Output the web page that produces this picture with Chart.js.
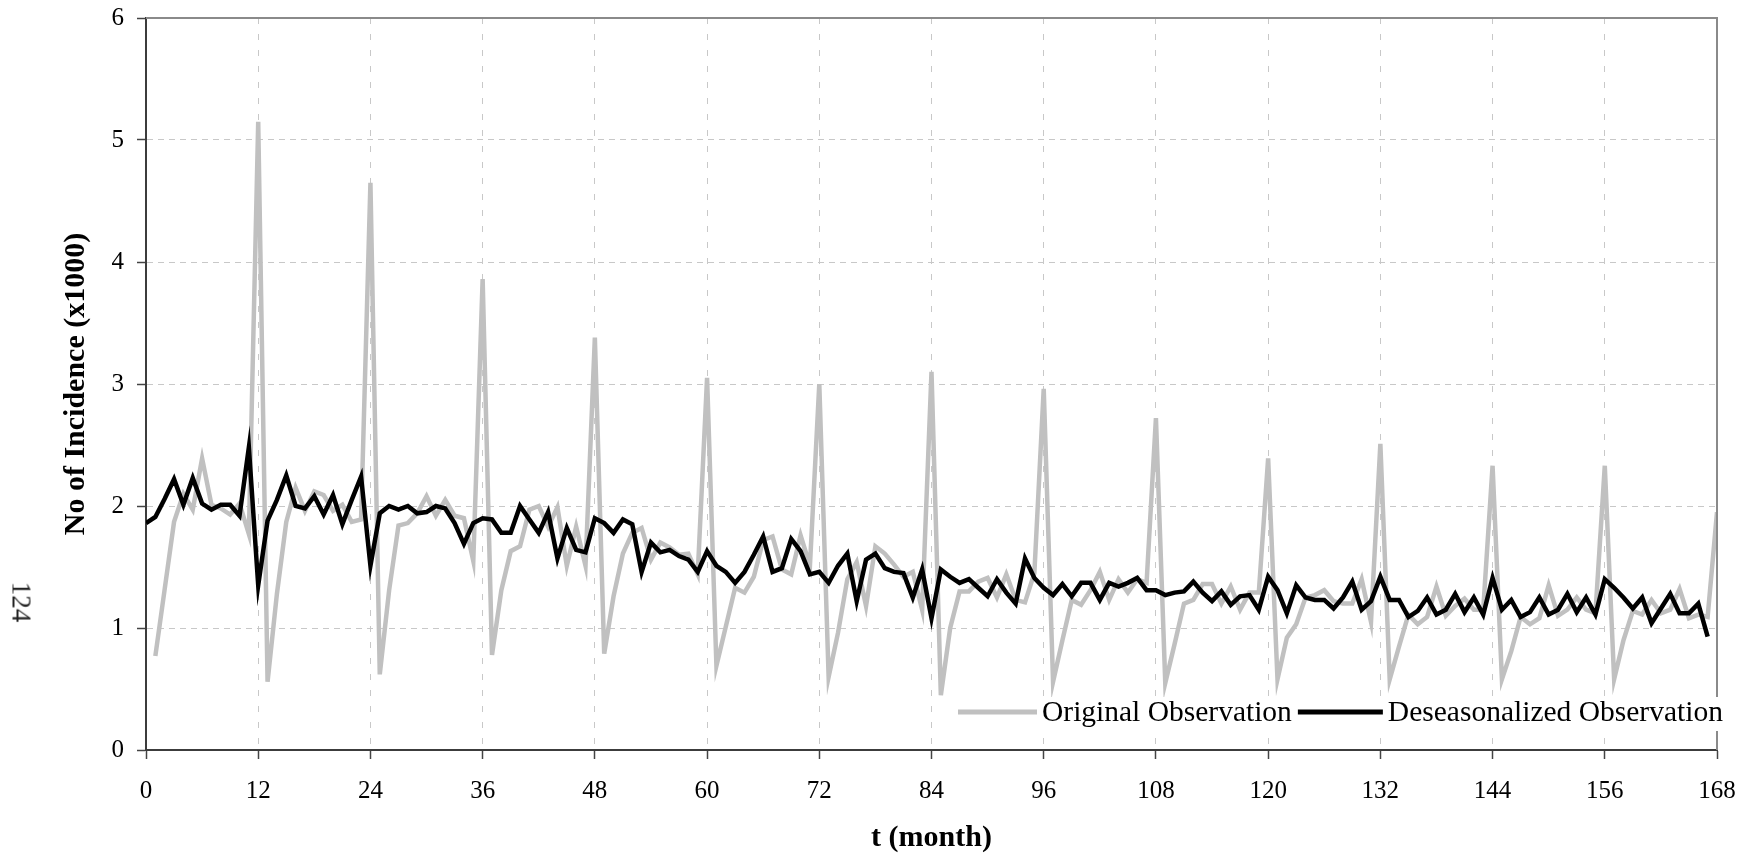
<!DOCTYPE html>
<html>
<head>
<meta charset="utf-8">
<script src="https://cdn.jsdelivr.net/npm/chart.js@4"></script>
<style>
  html, body { margin: 0; padding: 0; background: #fff; }
  #wrap { position: relative; width: 1758px; height: 857px; }
  #pageNo {
    position: absolute; left: 21px; top: 602px;
    transform: translate(-50%, -50%) rotate(90deg);
    font: 27px "Liberation Serif", "Times New Roman", serif; color: #222;
    white-space: nowrap;
  }
</style>
</head>
<body>
<div id="wrap">
  <canvas id="c" width="1758" height="857"></canvas>
  <div id="pageNo">124</div>
</div>
<script>
// ---- data (values x1000) ----
// Original observation, months t = 1..168
const originalObservation = [
  0.77, 1.32, 1.87, 2.10, 1.97, 2.39, 2.01, 1.98, 1.93, 2.02, 1.77, 5.15,
  0.56, 1.28, 1.87, 2.15, 1.96, 2.12, 2.09, 1.96, 2.01, 1.87, 1.89, 4.65,
  0.62, 1.31, 1.84, 1.86, 1.94, 2.08, 1.92, 2.05, 1.92, 1.90, 1.55, 3.86,
  0.78, 1.31, 1.63, 1.67, 1.97, 2.00, 1.83, 1.99, 1.51, 1.83, 1.51, 3.38,
  0.79, 1.26, 1.61, 1.78, 1.82, 1.56, 1.70, 1.66, 1.60, 1.61, 1.44, 3.05,
  0.69, 1.01, 1.33, 1.29, 1.42, 1.72, 1.75, 1.48, 1.44, 1.76, 1.51, 3.00,
  0.60, 0.96, 1.40, 1.54, 1.18, 1.67, 1.61, 1.52, 1.42, 1.46, 1.15, 3.10,
  0.45, 1.00, 1.30, 1.30, 1.38, 1.41, 1.25, 1.44, 1.23, 1.21, 1.45, 2.96,
  0.56, 0.90, 1.23, 1.19, 1.31, 1.46, 1.23, 1.40, 1.29, 1.40, 1.37, 2.72,
  0.55, 0.87, 1.20, 1.23, 1.36, 1.36, 1.20, 1.34, 1.15, 1.29, 1.29, 2.39,
  0.58, 0.92, 1.03, 1.25, 1.27, 1.31, 1.22, 1.20, 1.20, 1.40, 1.05, 2.51,
  0.58, 0.85, 1.11, 1.03, 1.09, 1.34, 1.10, 1.18, 1.24, 1.15, 1.15, 2.33,
  0.58, 0.81, 1.09, 1.03, 1.08, 1.35, 1.10, 1.15, 1.25, 1.15, 1.12, 2.33,
  0.58, 0.90, 1.14, 1.11, 1.23, 1.12, 1.15, 1.32, 1.08, 1.11, 1.09, 1.95
];
const originalStartMonth = 1;

// Deseasonalized observation, months t = 0..167
const deseasonalizedObservation = [
  1.86, 1.91, 2.06, 2.22, 2.01, 2.23, 2.02, 1.97, 2.01, 2.01, 1.92, 2.48,
  1.35, 1.88, 2.05, 2.25, 2.00, 1.98, 2.08, 1.93, 2.09, 1.85, 2.05, 2.24,
  1.51, 1.94, 2.00, 1.97, 2.00, 1.94, 1.95, 2.00, 1.98, 1.86, 1.69, 1.86,
  1.90, 1.89, 1.78, 1.78, 2.00, 1.89, 1.78, 1.95, 1.57, 1.82, 1.64, 1.62,
  1.90, 1.86, 1.78, 1.89, 1.85, 1.46, 1.70, 1.62, 1.64, 1.59, 1.56, 1.46,
  1.63, 1.51, 1.46, 1.37, 1.46, 1.60, 1.75, 1.46, 1.49, 1.73, 1.63, 1.44,
  1.46, 1.37, 1.51, 1.61, 1.22, 1.56, 1.61, 1.49, 1.46, 1.45, 1.25, 1.48,
  1.08, 1.48, 1.42, 1.37, 1.40, 1.33, 1.26, 1.40, 1.29, 1.20, 1.57, 1.41,
  1.33, 1.27, 1.36, 1.26, 1.37, 1.37, 1.23, 1.37, 1.34, 1.37, 1.41, 1.31,
  1.31, 1.27, 1.29, 1.30, 1.38, 1.29, 1.22, 1.30, 1.19, 1.26, 1.27, 1.15,
  1.42, 1.31, 1.12, 1.35, 1.25, 1.23, 1.23, 1.16, 1.25, 1.38, 1.15, 1.22,
  1.42, 1.23, 1.23, 1.09, 1.14, 1.25, 1.11, 1.15, 1.28, 1.13, 1.25, 1.11,
  1.41, 1.15, 1.23, 1.09, 1.13, 1.25, 1.11, 1.15, 1.28, 1.13, 1.25, 1.11,
  1.40, 1.33, 1.25, 1.16, 1.25, 1.04, 1.16, 1.28, 1.12, 1.12, 1.20, 0.93
];
const deseasonalizedStartMonth = 0;

const seriesNames = ["Original Observation", "Deseasonalized Observation"];
const xAxisRange = [0, 168];
const xTickStep = 12;
const yAxisRange = [0, 6];
const yTickStep = 1;
const xTitle = "t (month)";
const yTitle = "No of Incidence (x1000)";

// ---- chart ----
const SERIF = '"Liberation Serif", "Times New Roman", serif';
const GRAY = '#c0c0c0';

const frameAndLegend = {
  id: 'frameAndLegend',
  afterDraw(chart) {
    const ctx = chart.ctx;
    const a = chart.chartArea;
    ctx.save();
    // top & right frame
    ctx.setLineDash([]);
    ctx.lineWidth = 2;
    ctx.strokeStyle = '#8a8a8a';
    ctx.beginPath();
    ctx.moveTo(a.left, a.top);
    ctx.lineTo(a.right, a.top);
    ctx.lineTo(a.right, a.bottom);
    ctx.stroke();

    // legend
    const ly = 712;
    ctx.fillStyle = '#ffffff';
    ctx.fillRect(946, 697, 792, 34);
    ctx.font = '29.5px ' + SERIF;
    ctx.textBaseline = 'middle';
    ctx.textAlign = 'left';
    let x = 958;
    const samples = [
      {color: GRAY, len: 79},
      {color: '#000000', len: 85}
    ];
    seriesNames.forEach((name, i) => {
      ctx.strokeStyle = samples[i].color;
      ctx.lineWidth = 5;
      ctx.beginPath();
      ctx.moveTo(x, ly);
      ctx.lineTo(x + samples[i].len, ly);
      ctx.stroke();
      x += samples[i].len + 5;
      ctx.fillStyle = '#000';
      ctx.fillText(name, x, ly + 1);
      x += ctx.measureText(name).width + 6;
    });
    ctx.restore();
  }
};

new Chart(document.getElementById('c'), {
  type: 'line',
  data: {
    datasets: [
      {
        label: seriesNames[0],
        data: originalObservation.map((v, i) => ({x: originalStartMonth + i, y: v})),
        borderColor: GRAY,
        borderWidth: 4.5,
        pointRadius: 0,
        tension: 0,
        fill: false,
        order: 1
      },
      {
        label: seriesNames[1],
        data: deseasonalizedObservation.map((v, i) => ({x: deseasonalizedStartMonth + i, y: v})),
        borderColor: '#000000',
        borderWidth: 4.5,
        pointRadius: 0,
        tension: 0,
        fill: false,
        order: 0
      }
    ]
  },
  options: {
    responsive: false,
    animation: false,
    devicePixelRatio: 1,
    layout: { padding: { left: 0, right: 41, top: 18, bottom: 0 } },
    plugins: {
      legend: { display: false },
      tooltip: { enabled: false }
    },
    scales: {
      x: {
        type: 'linear',
        min: xAxisRange[0],
        max: xAxisRange[1],
        afterFit(scale) {
          scale.height = 107;
          scale.paddingLeft = 0; scale.paddingRight = 0;
        },
        ticks: {
          stepSize: xTickStep,
          font: { family: SERIF, size: 25 },
          color: '#000',
          padding: 17,
          maxRotation: 0,
          autoSkip: false
        },
        grid: {
          color: '#c8c8c8',
          lineWidth: 1,
          tickLength: 9,
          tickColor: '#444',
          tickWidth: 1.5
        },
        border: { display: true, color: '#3c3c3c', width: 2, dash: [6, 10] },
        title: {
          display: true,
          text: xTitle,
          font: { family: SERIF, size: 30, weight: 'bold', lineHeight: 1.2 },
          color: '#000',
          padding: { top: 0, bottom: 1 }
        }
      },
      y: {
        type: 'linear',
        min: yAxisRange[0],
        max: yAxisRange[1],
        afterFit(scale) {
          scale.width = 146;
          scale.paddingTop = 0; scale.paddingBottom = 0;
        },
        ticks: {
          stepSize: yTickStep,
          font: { family: SERIF, size: 25 },
          color: '#000',
          padding: 13
        },
        grid: {
          color: '#c8c8c8',
          lineWidth: 1,
          tickLength: 9,
          tickColor: '#444',
          tickWidth: 1.5
        },
        border: { display: true, color: '#3c3c3c', width: 2, dash: [6, 5] },
        title: {
          display: true,
          text: yTitle,
          font: { family: SERIF, size: 30, weight: 'bold', lineHeight: 1.2 },
          color: '#000',
          padding: { top: 58, bottom: 0 }
        }
      }
    }
  },
  plugins: [frameAndLegend]
});
</script>
</body>
</html>
